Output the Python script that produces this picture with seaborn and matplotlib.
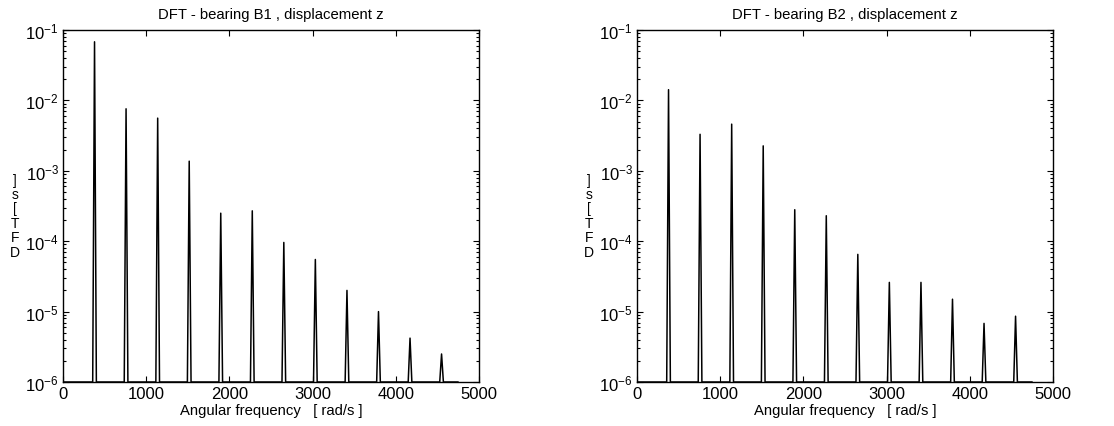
import numpy as np
import pandas as pd
import matplotlib
matplotlib.use("Agg")
import matplotlib.pyplot as plt
import seaborn as sns

# Harmonic peak positions (rad/s) and DFT amplitudes
freqs = [379, 758, 1138, 1517, 1896, 2275, 2654, 3033, 3413, 3792, 4171, 4550]
amp_b1 = [6.8e-2, 7.6e-3, 5.6e-3, 1.37e-3, 2.5e-4, 2.7e-4,
          9.6e-5, 5.5e-5, 2.0e-5, 1.0e-5, 4.2e-6, 2.5e-6]
amp_b2 = [1.42e-2, 3.3e-3, 4.6e-3, 2.26e-3, 2.8e-4, 2.3e-4,
          6.5e-5, 2.6e-5, 2.6e-5, 1.5e-5, 6.8e-6, 8.6e-6]
floor_val = 1e-6
f_end = 4750
half_width = 22

titles = ["DFT - bearing B1 , displacement z", "DFT - bearing B2 , displacement z"]
xlabel = "Angular frequency   [ rad/s ]"
# the y label shows up as stacked characters in the original
ylab_chars = ["]", "s", "[", "T", "F", "D"]
ylab_ypix = [181, 195, 209, 224, 238, 253]


def spectrum(amps):
    # build the spiky DFT curve from the peak list
    xs, ys = [0], [floor_val]
    for f, a in zip(freqs, amps):
        xs += [f - half_width, f, f + half_width]
        ys += [floor_val, a, floor_val]
    xs.append(f_end)
    ys.append(floor_val)
    return pd.DataFrame({"w": xs, "dft": ys})


sns.set_style("ticks")
plt.rcParams["font.family"] = ["Liberation Sans", "DejaVu Sans"]
plt.rcParams["text.color"] = "black"
plt.rcParams["axes.labelcolor"] = "black"
plt.rcParams["xtick.color"] = "black"
plt.rcParams["ytick.color"] = "black"

fig = plt.figure(figsize=(11.14, 4.27), dpi=100)
W, H = 1114, 427
ax_left_px = [63, 637]
label_x_px = [15, 589]

for i, amps in enumerate([amp_b1, amp_b2]):
    ax = fig.add_axes([ax_left_px[i] / W, 44 / H, 416 / W, 352 / H])
    df = spectrum(amps)
    sns.lineplot(data=df, x="w", y="dft", ax=ax, color="black",
                 linewidth=1.1, estimator=None, sort=False)
    ax.set_yscale("log")
    ax.set_xlim(0, 5000)
    ax.set_ylim(1e-6, 1e-1)
    ax.set_xticks([0, 1000, 2000, 3000, 4000, 5000])
    ax.set_title(titles[i], fontsize=10.7, pad=9, color="black")
    ax.set_xlabel(xlabel, fontsize=10.7, labelpad=1)
    ax.set_ylabel("")
    ax.tick_params(which="both", direction="in", top=True, right=True,
                   labelsize=12, width=0.8)
    ax.tick_params(which="major", length=4, pad=3)
    ax.tick_params(which="minor", length=2)
    for sp in ax.spines.values():
        sp.set_linewidth(1.0)
        sp.set_color("black")
    for ch, yp in zip(ylab_chars, ylab_ypix):
        fig.text(label_x_px[i] / W, 1 - yp / H, ch, ha="center", va="center",
                 fontsize=10)

fig.savefig("out.png", dpi=100)
